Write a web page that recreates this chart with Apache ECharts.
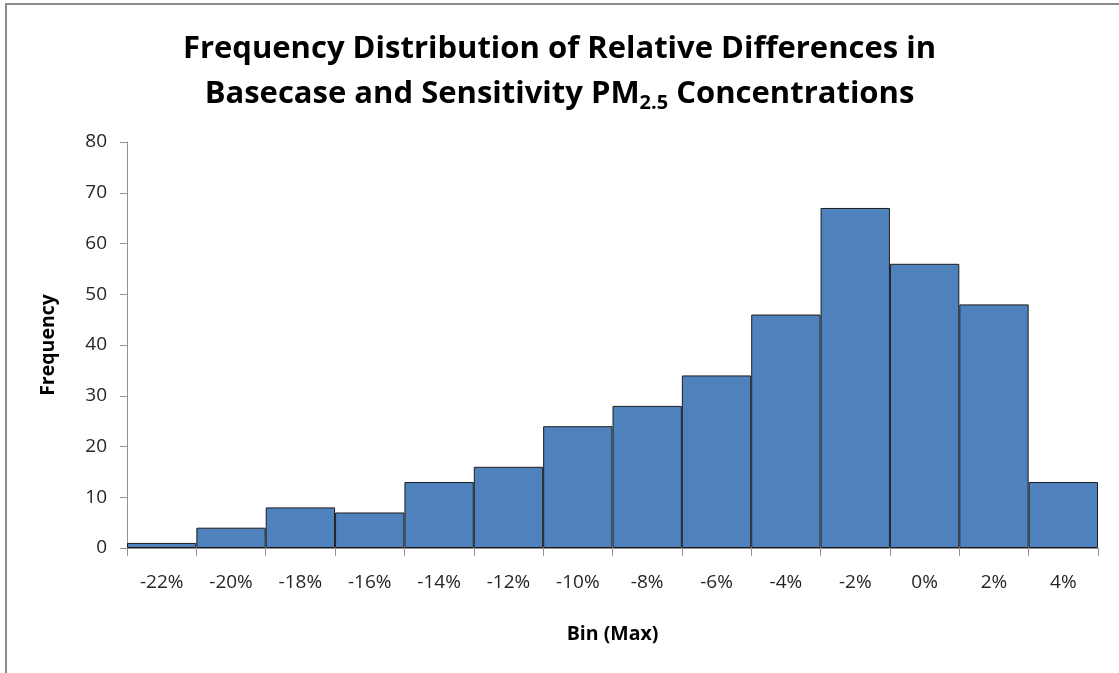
<!DOCTYPE html>
<html>
<head>
<meta charset="utf-8">
<script src="https://cdn.jsdelivr.net/npm/echarts@6/dist/echarts.min.js"></script>
<style>
  html, body { margin: 0; padding: 0; background: #fff; }
  #chart { width: 1119px; height: 673px; }
</style>
</head>
<body>
<div id="chart"></div>
<script>
// Histogram bins (upper bound of each bin) and counts
const binLabels = ['-22%', '-20%', '-18%', '-16%', '-14%', '-12%', '-10%', '-8%', '-6%', '-4%', '-2%', '0%', '2%', '4%'];
const frequency = [1, 4, 8, 7, 13, 16, 24, 28, 34, 46, 67, 56, 48, 13];
const yTicks = { min: 0, max: 80, interval: 10 };

const FONT = '"Open Sans", "Noto Sans", sans-serif';

const chart = echarts.init(document.getElementById('chart'), null, { renderer: 'canvas' });

chart.setOption({
  animation: false,
  backgroundColor: '#ffffff',
  title: {
    text: '{t|Frequency Distribution of Relative Differences in}\n{t|Basecase and Sensitivity PM}{s|2.5}{t| Concentrations}',
    left: 'center',
    top: 22,
    textStyle: {
      rich: {
        t: { fontFamily: FONT, fontWeight: 'bold', fontSize: 31, color: '#000', lineHeight: 45 },
        s: { fontFamily: FONT, fontWeight: 'bold', fontSize: 20, color: '#000', lineHeight: 45, padding: [18, 0, 0, 0] }
      }
    }
  },
  grid: { left: 127, right: 21, top: 142, bottom: 125, containLabel: false },
  xAxis: {
    type: 'category',
    data: binLabels,
    name: 'Bin (Max)',
    nameLocation: 'middle',
    nameGap: 76,
    nameTextStyle: { fontFamily: FONT, fontWeight: 'bold', fontSize: 19.5, color: '#000' },
    axisLine: { lineStyle: { color: '#929292', width: 1 } },
    axisTick: { show: true, length: 8, inside: false, lineStyle: { color: '#929292' } },
    axisLabel: { fontFamily: FONT, fontSize: 19, color: '#262626', margin: 25 },
    splitLine: { show: false }
  },
  yAxis: {
    type: 'value',
    min: yTicks.min,
    max: yTicks.max,
    interval: yTicks.interval,
    name: 'Frequency',
    nameLocation: 'middle',
    nameGap: 69,
    nameRotate: 90,
    nameTextStyle: { fontFamily: FONT, fontWeight: 'bold', fontSize: 19.5, color: '#000' },
    axisLine: { show: true, lineStyle: { color: '#929292', width: 1 } },
    axisTick: { show: true, length: 7, lineStyle: { color: '#929292' } },
    axisLabel: { fontFamily: FONT, fontSize: 19, color: '#262626', margin: 20 },
    splitLine: { show: false }
  },
  series: [{
    type: 'bar',
    data: frequency,
    barCategoryGap: 0,
    itemStyle: { color: '#4f81bd', borderColor: '#1c1c1c', borderWidth: 1 }
  }],
  graphic: [
    // chart-area frame along the top and left
    { type: 'line', shape: { x1: 5, y1: 4, x2: 1119, y2: 4 }, style: { stroke: '#8a8a8a', lineWidth: 2 } },
    { type: 'line', shape: { x1: 6, y1: 3, x2: 6, y2: 673 }, style: { stroke: '#8a8a8a', lineWidth: 2 } }
  ]
});
</script>
</body>
</html>
